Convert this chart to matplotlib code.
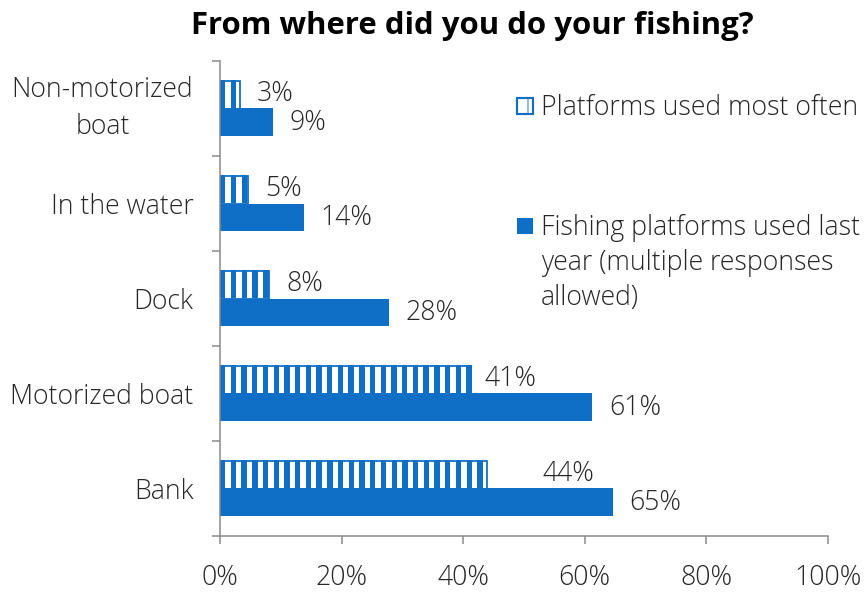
import numpy as np
import matplotlib
matplotlib.use("Agg")
import matplotlib.pyplot as plt
from matplotlib.colors import ListedColormap
from matplotlib.patches import Rectangle

# data, bottom to top
categories = ["Bank", "Motorized boat", "Dock", "In the water", "Non-motorized\nboat"]
most_often = [43.9, 40.8, 8.1, 4.6, 3.3]
last_year = [64.6, 61.2, 27.8, 13.8, 8.7]
most_often_labels = ["44%", "41%", "8%", "5%", "3%"]
last_year_labels = ["65%", "61%", "28%", "14%", "9%"]
x_ticks = [0, 20, 40, 60, 80, 100]
legend_one = "Platforms used most often"
legend_two = ["Fishing platforms used last", "year (multiple responses", "allowed)"]

blue = "#0F6FC6"
text_col = "#262626"
axis_col = "#888888"

plt.rcParams["font.family"] = ["Open Sans", "DejaVu Sans"]
plt.rcParams["font.weight"] = "light"
fs = 30

fig = plt.figure(figsize=(13.5, 9.25), dpi=64)
ax = fig.add_axes([220/864, 1 - 536/592, 608/864, 475/592])

h = 0.29
centers = [i + 0.5 for i in range(len(categories))]
top_y = [c + h/2 for c in centers]
bot_y = [c - h/2 for c in centers]

# striped bars: blue outline on top of a white/blue stripe texture clipped to the bar
outline = ax.barh(top_y, most_often, height=h, facecolor="none", edgecolor=blue,
                  linewidth=2, zorder=3)
period = 1.76  # stripe repeat in % units (~10.7 px)
stripe_cmap = ListedColormap(["white", blue])
for b in outline:
    n = int(b.get_width() / period) + 1
    tex = np.tile([[1, 0]], (1, n))
    ax.imshow(tex, cmap=stripe_cmap, aspect="auto", interpolation="nearest",
              extent=(0, n * period, b.get_y(), b.get_y() + b.get_height()),
              clip_path=b, zorder=2)
ax.barh(bot_y, last_year, height=h, color=blue, linewidth=0, zorder=2)

# value labels (the Bank one sits further out in the original)
top_gap = [63, 19, 19, 19, 19]
for y, v, t, g in zip(top_y, most_often, most_often_labels, top_gap):
    ax.annotate(t, (v, y), xytext=(g, 1), textcoords="offset points",
                va="center", ha="left", fontsize=fs, color=text_col)
for y, v, t in zip(bot_y, last_year, last_year_labels):
    ax.annotate(t, (v, y), xytext=(19, -1), textcoords="offset points",
                va="center", ha="left", fontsize=fs, color=text_col)

ax.set_xlim(0, 100)
ax.set_ylim(0, len(categories))
ax.set_xticks(x_ticks)
ax.set_xticklabels([f"{x}%" for x in x_ticks])
ax.set_yticks(range(len(categories) + 1))
ax.set_yticklabels([])
ax.set_yticks(centers, minor=True)
ax.set_yticklabels(categories, minor=True)
for lbl in ax.get_yticklabels(minor=True):
    lbl.set_multialignment("center")
    lbl.set_linespacing(1.45)
    if "\n" in lbl.get_text():
        lbl.set_verticalalignment("center")

ax.tick_params(axis="y", which="major", length=9, width=1.7, color=axis_col)
ax.tick_params(axis="y", which="minor", length=0, pad=30, labelsize=fs,
               labelcolor=text_col)
ax.tick_params(axis="x", length=9, width=1.7, color=axis_col, pad=22,
               labelsize=fs, labelcolor=text_col)

for s in ["top", "right"]:
    ax.spines[s].set_visible(False)
for s in ["left", "bottom"]:
    ax.spines[s].set_color(axis_col)
    ax.spines[s].set_linewidth(1.7)
    ax.spines[s].set_zorder(4)

fig.text(472/864, 1 - 26/592, "From where did you do your fishing?",
         ha="center", va="center", fontsize=35, fontweight="bold", color="black")

# legend drawn by hand so the box lines up with the first text line
fig.add_artist(Rectangle((517/864, 1 - 114/592), 16/864, 16/592,
                         transform=fig.transFigure, facecolor="white",
                         edgecolor=blue, hatch="|", linewidth=2.4))
fig.text(541/864, 1 - 108/592, legend_one, va="center", ha="left",
         fontsize=fs, color=text_col)
fig.add_artist(Rectangle((517/864, 1 - 234/592), 16/864, 16/592,
                         transform=fig.transFigure, facecolor=blue,
                         edgecolor=blue, linewidth=0))
for i, line in enumerate(legend_two):
    fig.text(541/864, 1 - (228 + 35*i)/592, line, va="center", ha="left",
             fontsize=fs, color=text_col)

fig.savefig("out.png", dpi=64)
